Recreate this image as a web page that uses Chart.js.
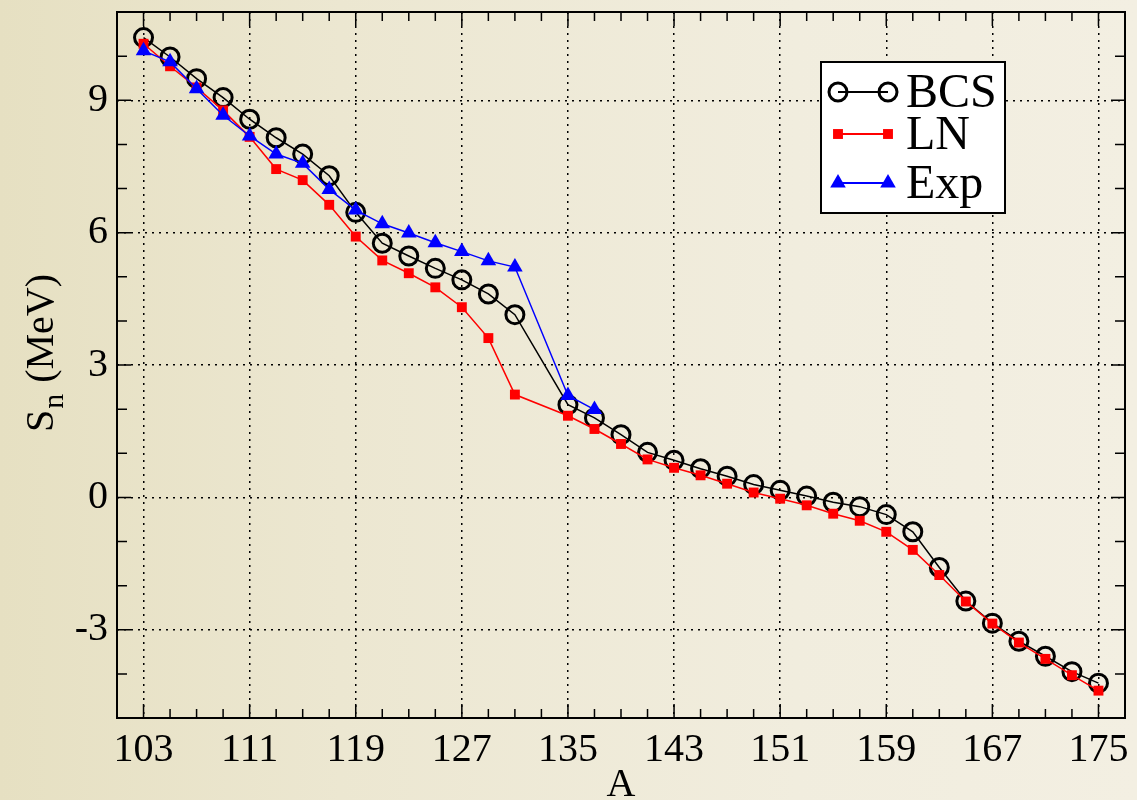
<!DOCTYPE html>
<html>
<head>
<meta charset="utf-8">
<script src="https://cdn.jsdelivr.net/npm/chart.js@4.4.0/dist/chart.umd.min.js"></script>
<style>
    html, body { margin: 0; padding: 0; }
    #wrap { position: relative; width: 1137px; height: 800px; }
</style>
</head>
<body>
<div id="wrap"><canvas id="grafica"></canvas></div>
<script>
    // Datos
    const masaA = [103, 105, 107, 109, 111, 113, 115, 117, 119, 121, 123, 125, 127, 129, 131,
                   135, 137, 139, 141, 143, 145, 147, 149, 151, 153, 155, 157, 159, 161, 163,
                   165, 167, 169, 171, 173, 175];
    const snBCS = [10.42, 9.98, 9.49, 9.06, 8.57, 8.15, 7.78, 7.29, 6.46, 5.76, 5.47, 5.19, 4.93, 4.61, 4.14,
                   2.10, 1.80, 1.42, 1.02, 0.84, 0.65, 0.48, 0.29, 0.16, 0.03, -0.11, -0.21, -0.39, -0.78, -1.59,
                   -2.35, -2.85, -3.26, -3.60, -3.95, -4.21];
    const snLN = [10.28, 9.77, 9.29, 8.77, 8.17, 7.44, 7.19, 6.63, 5.91, 5.37, 5.08, 4.76, 4.31, 3.61, 2.33,
                  1.85, 1.55, 1.21, 0.86, 0.67, 0.50, 0.31, 0.11, -0.03, -0.18, -0.37, -0.53, -0.78, -1.19, -1.76,
                  -2.36, -2.86, -3.29, -3.66, -4.03, -4.38];
    const masaExp = [103, 105, 107, 109, 111, 113, 115, 117, 119, 121, 123, 125, 127, 129, 131, 135, 137];
    const snExp = [10.12, 9.87, 9.26, 8.66, 8.19, 7.78, 7.57, 6.98, 6.51, 6.20, 5.99, 5.77, 5.57, 5.36, 5.22, 2.31, 1.99];

    const ticksX = [103, 111, 119, 127, 135, 143, 151, 159, 167, 175];
    const ticksY = [-3, 0, 3, 6, 9];
    const pasoMenorX = 2;
    const pasoMenorY = 1;

    const FUENTE = "'Liberation Serif', serif";
    Chart.defaults.font.family = FUENTE;

    function puntos(xs, ys) {
        return xs.map((x, i) => ({ x: x, y: ys[i] }));
    }

    function dibujarMarca(ctx, ds, x, y) {
        const r = ds.pointRadius;
        ctx.save();
        ctx.lineWidth = ds.pointBorderWidth;
        ctx.strokeStyle = ds.pointBorderColor;
        ctx.fillStyle = ds.pointBackgroundColor;
        ctx.beginPath();
        if (ds.pointStyle === 'circle') {
            ctx.arc(x, y, r, 0, Math.PI * 2);
        } else if (ds.pointStyle === 'rect') {
            const s = r * Math.SQRT1_2;
            ctx.rect(x - s, y - s, 2 * s, 2 * s);
        } else {
            ctx.moveTo(x, y - r);
            ctx.lineTo(x + 0.866 * r, y + 0.5 * r);
            ctx.lineTo(x - 0.866 * r, y + 0.5 * r);
            ctx.closePath();
        }
        ctx.fill();
        if (ds.pointBorderWidth > 0) ctx.stroke();
        ctx.restore();
    }

    // Fondo
    const fondo = {
        id: 'fondo',
        beforeDraw(chart) {
            const ctx = chart.ctx;
            const g = ctx.createLinearGradient(0, 0, chart.width, 0);
            g.addColorStop(0, '#e6e0c2');
            g.addColorStop(0.3, '#ece7d1');
            g.addColorStop(0.7, '#f1edde');
            g.addColorStop(1, '#f3efe2');
            ctx.save();
            ctx.fillStyle = g;
            ctx.fillRect(0, 0, chart.width, chart.height);
            ctx.restore();
        }
    };

    // Marco, marcas menores, titulos y leyenda
    const marco = {
        id: 'marco',
        afterDraw(chart) {
            const ctx = chart.ctx;
            const a = chart.chartArea;
            const sx = chart.scales.x;
            const sy = chart.scales.y;
            ctx.save();
            ctx.strokeStyle = '#000';
            ctx.lineWidth = 1.5;
            ctx.beginPath();
            for (let v = sx.min + pasoMenorX; v < sx.max; v += pasoMenorX) {
                const px = sx.getPixelForValue(v);
                const l = ticksX.includes(v) ? 14 : 9;
                ctx.moveTo(px, a.bottom); ctx.lineTo(px, a.bottom - l);
                ctx.moveTo(px, a.top); ctx.lineTo(px, a.top + l);
            }
            for (let v = sy.min + pasoMenorY; v < sy.max; v += pasoMenorY) {
                const py = sy.getPixelForValue(v);
                const l = ticksY.includes(v) ? 14 : 10;
                ctx.moveTo(a.left, py); ctx.lineTo(a.left + l, py);
                ctx.moveTo(a.right, py); ctx.lineTo(a.right - l, py);
            }
            ctx.stroke();
            ctx.lineWidth = 2;
            ctx.strokeRect(a.left, a.top, a.right - a.left, a.bottom - a.top);

            // titulo eje X
            ctx.fillStyle = '#000';
            ctx.font = '40px ' + FUENTE;
            ctx.textAlign = 'center';
            ctx.textBaseline = 'alphabetic';
            ctx.fillText('A', (a.left + a.right) / 2, 796);
            ctx.restore();

            // titulo eje Y: S_n (MeV)
            ctx.save();
            ctx.fillStyle = '#000';
            ctx.translate(53, (a.top + a.bottom) / 2 - 11);
            ctx.rotate(-Math.PI / 2);
            ctx.textAlign = 'left';
            ctx.textBaseline = 'alphabetic';
            ctx.font = '40px ' + FUENTE;
            const wS = ctx.measureText('S').width;
            const wResto = ctx.measureText(' (MeV)').width;
            ctx.font = '30px ' + FUENTE;
            const wN = ctx.measureText('n').width;
            const x0 = -(wS + wN + wResto) / 2;
            ctx.font = '40px ' + FUENTE;
            ctx.fillText('S', x0, 0);
            ctx.font = '30px ' + FUENTE;
            ctx.fillText('n', x0 + wS + 1, 10);
            ctx.font = '40px ' + FUENTE;
            ctx.fillText(' (MeV)', x0 + wS + wN + 2, 0);
            ctx.restore();

            // leyenda
            ctx.save();
            const bx = a.right - 304, by = a.top + 50, bw = 184, bh = 151;
            ctx.fillStyle = '#fff';
            ctx.fillRect(bx, by, bw, bh);
            ctx.strokeStyle = '#000';
            ctx.lineWidth = 2;
            ctx.strokeRect(bx, by, bw, bh);
            const filas = [30, 72, 121];
            chart.data.datasets.forEach((ds, i) => {
                const y = by + filas[i];
                const x1 = bx + 17, x2 = bx + 67;
                ctx.strokeStyle = ds.borderColor;
                ctx.lineWidth = 2;
                ctx.beginPath();
                ctx.moveTo(x1, y); ctx.lineTo(x2, y);
                ctx.stroke();
                dibujarMarca(ctx, ds, x1, y);
                dibujarMarca(ctx, ds, x2, y);
                ctx.fillStyle = '#000';
                ctx.font = '48px ' + FUENTE;
                ctx.textAlign = 'left';
                ctx.textBaseline = 'alphabetic';
                ctx.fillText(ds.label, bx + 85, y + 15);
            });
            ctx.restore();
        }
    };

    new Chart(document.getElementById('grafica'), {
        type: 'line',
        data: {
            datasets: [{
                label: 'BCS',
                data: puntos(masaA, snBCS),
                borderColor: '#000',
                borderWidth: 1.5,
                pointStyle: 'circle',
                pointRadius: 9,
                pointBorderWidth: 3,
                pointBorderColor: '#000',
                pointBackgroundColor: 'rgba(0,0,0,0)',
                order: 3
            }, {
                label: 'LN',
                data: puntos(masaA, snLN),
                borderColor: '#ff0000',
                borderWidth: 1.5,
                pointStyle: 'rect',
                pointRadius: 7,
                pointBorderWidth: 0,
                pointBorderColor: '#ff0000',
                pointBackgroundColor: '#ff0000',
                order: 2
            }, {
                label: 'Exp',
                data: puntos(masaExp, snExp),
                borderColor: '#0000ff',
                borderWidth: 1.5,
                pointStyle: 'triangle',
                pointRadius: 9,
                pointBorderWidth: 0,
                pointBorderColor: '#0000ff',
                pointBackgroundColor: '#0000ff',
                order: 1
            }]
        },
        options: {
            responsive: true,
            maintainAspectRatio: false,
            animation: false,
            layout: { padding: { top: 12, right: 10, left: 0, bottom: 0 } },
            plugins: {
                legend: { display: false },
                tooltip: { enabled: false }
            },
            scales: {
                x: {
                    type: 'linear',
                    min: 101,
                    max: 177,
                    afterBuildTicks: (s) => { s.ticks = ticksX.map(v => ({ value: v })); },
                    afterFit: (s) => { s.height = 82; s.paddingLeft = 0; s.paddingRight = 0; },
                    grid: { color: '#000', lineWidth: 1.5, drawTicks: false },
                    border: { display: false, dash: [2, 5] },
                    ticks: { color: '#000', font: { size: 40 }, padding: 8, maxRotation: 0, autoSkip: false }
                },
                y: {
                    min: -5,
                    max: 11,
                    afterBuildTicks: (s) => { s.ticks = ticksY.map(v => ({ value: v })); },
                    afterFit: (s) => { s.width = 117; s.paddingTop = 0; s.paddingBottom = 0; },
                    grid: { color: '#000', lineWidth: 1.5, drawTicks: false },
                    border: { display: false, dash: [2, 5] },
                    ticks: { color: '#000', font: { size: 40 }, padding: 9 }
                }
            }
        },
        plugins: [fondo, marco]
    });
</script>
</body>
</html>
